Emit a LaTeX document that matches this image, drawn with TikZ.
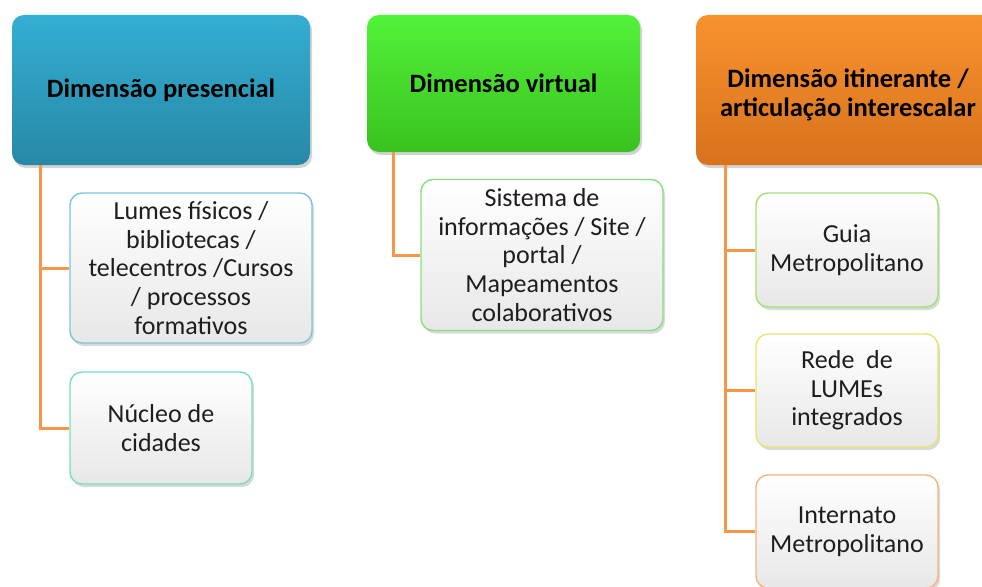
\documentclass[tikz,border=0pt]{standalone}
\usepackage{fontspec}
\setmainfont{Carlito}
\usetikzlibrary{shadows,calc}
\definecolor{hblueT}{HTML}{33AED3}
\definecolor{hblueB}{HTML}{2788A6}
\definecolor{hgreenT}{HTML}{52F23A}
\definecolor{hgreenB}{HTML}{39C21E}
\definecolor{horangeT}{HTML}{F8922F}
\definecolor{horangeB}{HTML}{D8721C}
\definecolor{conn}{HTML}{F79646}
\definecolor{cfill}{HTML}{F3F3F3}
\definecolor{bBlue}{HTML}{7CC4DE}
\definecolor{bTeal}{HTML}{7ADCC0}
\definecolor{bGreen}{HTML}{86E07E}
\definecolor{bLime}{HTML}{A3E070}
\definecolor{bYellow}{HTML}{E6E66A}
\definecolor{bOrange}{HTML}{F8B47C}
\definecolor{txt}{HTML}{1E1E1E}
\tikzset{
  header/.style={rounded corners=12pt, inner sep=0pt, align=center,
    font=\fontsize{26.5}{29}\selectfont\bfseries, text=black,
    drop shadow={opacity=0.35, shadow xshift=2pt, shadow yshift=-3pt}},
  child/.style={rounded corners=12pt, inner sep=0pt, align=center, line width=1.4pt,
    top color=white, bottom color=cfill!90!gray, middle color=cfill,
    font=\fontsize{26}{28.6}\selectfont, text=txt,
    drop shadow={opacity=0.3, shadow xshift=2pt, shadow yshift=-3pt}},
  link/.style={draw=conn, line width=3pt}
}
\begin{document}
\begin{tikzpicture}[x=1pt,y=-1pt]
\useasboundingbox (0,0) rectangle (982,586);
\begin{scope}
\clip (0,0) rectangle (982,586);
% headers
\node[header, top color=hblueT, bottom color=hblueB, minimum width=298pt, minimum height=150pt] (pres) at (161,90) {Dimensão presencial};
\node[header, top color=hgreenT, bottom color=hgreenB, minimum width=273pt, minimum height=137pt] (virt) at (503.5,83.5) {Dimensão virtual};
\node[header, top color=horangeT, bottom color=horangeB, minimum width=304pt, minimum height=150pt] (itin) at (848,90) {\rule{0pt}{4pt}\\[-0.15\baselineskip]Dimensão itinerante /\\articulação interescalar};
% children
\node[child, draw=bBlue, minimum width=242pt, minimum height=150pt] (lumes) at (191,268) {Lumes físicos /\\bibliotecas /\\telecentros /Cursos\\/ processos\\formativos};
\node[child, draw=bTeal, minimum width=182pt, minimum height=112pt] (nucleo) at (161,428) {Núcleo de\\cidades};
\node[child, draw=bGreen, minimum width=242pt, minimum height=151pt] (sist) at (542,255) {Sistema de\\informações / Site /\\portal /\\Mapeamentos\\colaborativos};
\node[child, draw=bLime, minimum width=182pt, minimum height=114pt] (guia) at (847,250) {Guia\\Metropolitano};
\node[child, draw=bYellow, minimum width=182pt, minimum height=113pt] (rede) at (847,390.5) {Rede \ de\\LUMEs\\integrados};
\node[child, draw=bOrange, minimum width=182pt, minimum height=113pt] (inter) at (847,531.5) {Internato\\Metropolitano};
% connectors
\coordinate (pt) at ([xshift=29pt]pres.south west);
\coordinate (vt) at ([xshift=27pt]virt.south west);
\coordinate (it) at ([xshift=30pt]itin.south west);
\draw[link] (pt) |- (lumes.west);
\draw[link] (pt) |- (nucleo.west);
\draw[link] (vt) |- (sist.west);
\draw[link] (it) |- (guia.west);
\draw[link] (it) |- (rede.west);
\draw[link] (it) |- (inter.west);
\end{scope}
\end{tikzpicture}
\end{document}
